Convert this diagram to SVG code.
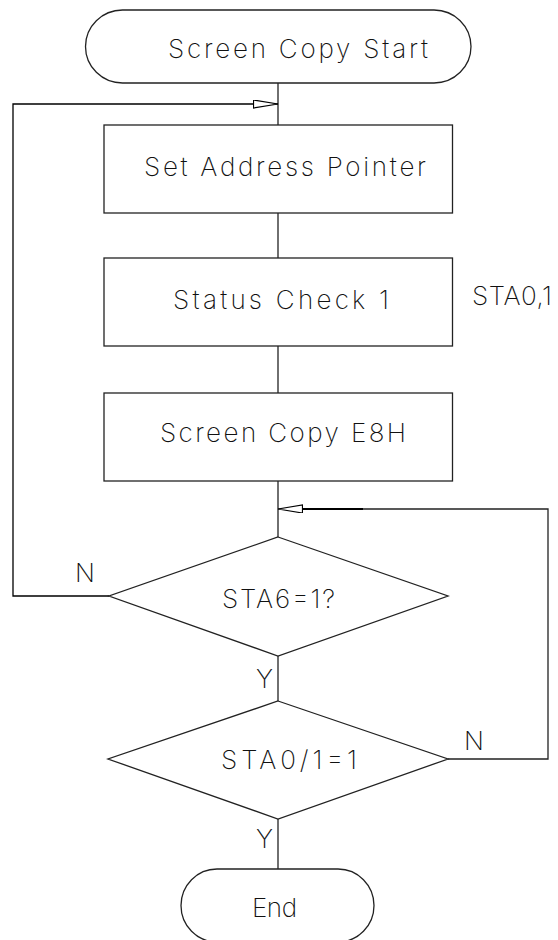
<svg xmlns="http://www.w3.org/2000/svg" width="558" height="940" viewBox="0 0 558 940">
<style>
  .shape { fill: #fff; stroke: #222; stroke-width: 1.3; }
  .conn { fill: none; stroke: #222; stroke-width: 1.3; }
  .thick { fill: none; stroke: #000; stroke-width: 2.2; }
  .lbl { font-family: Inter, "DejaVu Sans", sans-serif; font-weight: 200; font-size: 26px; fill: #111; }
</style>
<defs>
  <marker id="hollow" markerUnits="userSpaceOnUse" markerWidth="27" markerHeight="11" refX="25" refY="4.3" orient="auto">
    <path d="M0.5,0.3 L25,4.3 L0.5,8.3 Z" fill="#fff" stroke="#000" stroke-width="1.2"/>
  </marker>
</defs>
<rect width="558" height="940" fill="#fff"/>
<g id="connectors">
  <line class="conn" x1="278" y1="83" x2="278" y2="125"/>
  <line class="conn" x1="278" y1="213" x2="278" y2="258"/>
  <line class="conn" x1="278" y1="346" x2="278" y2="393"/>
  <line class="conn" x1="278" y1="481" x2="278" y2="537"/>
  <line class="conn" x1="278" y1="656" x2="278" y2="701"/>
  <line class="conn" x1="278" y1="819" x2="278" y2="869"/>
  <path class="conn" d="M109,596 H13 V104 H278" style="stroke:#000" marker-end="url(#hollow)"/>
  <path class="conn" d="M448,759 H548 V509 H278" marker-end="url(#hollow)"/>
  <line class="thick" x1="303" y1="509" x2="363" y2="509"/>
  <text class="lbl" x="75" y="582">N</text>
  <text class="lbl" x="256" y="688">Y</text>
  <text class="lbl" x="464" y="750">N</text>
  <text class="lbl" x="256" y="848">Y</text>
</g>
<g id="start">
  <rect class="shape" x="85.5" y="10" width="385.5" height="73" rx="37" ry="36.5"/>
  <text class="lbl" x="168" y="58" textLength="260" lengthAdjust="spacing">Screen Copy Start</text>
</g>
<g id="set-address">
  <rect class="shape" x="104" y="125" width="348.5" height="88"/>
  <text class="lbl" x="144" y="176" textLength="282" lengthAdjust="spacing">Set Address Pointer</text>
</g>
<g id="status-check">
  <rect class="shape" x="104" y="258" width="348.5" height="88"/>
  <text class="lbl" x="173" y="309" textLength="216" lengthAdjust="spacing">Status Check 1</text>
  <text class="lbl" x="472" y="305" textLength="80" lengthAdjust="spacing">STA0,1</text>
</g>
<g id="screen-copy">
  <rect class="shape" x="104" y="393" width="348.5" height="88"/>
  <text class="lbl" x="160" y="442" textLength="246" lengthAdjust="spacing">Screen Copy E8H</text>
</g>
<g id="sta6">
  <polygon class="shape" points="278,537 448,596 278,656 109,596"/>
  <text class="lbl" x="222" y="608" textLength="113" lengthAdjust="spacing">STA6=1?</text>
</g>
<g id="sta01">
  <polygon class="shape" points="278,701 448,759 278,819 108,759"/>
  <text class="lbl" x="221" y="769" textLength="136" lengthAdjust="spacing">STA0/1=1</text>
</g>
<g id="end">
  <rect class="shape" x="181" y="869" width="193" height="73" rx="36" ry="36.5"/>
  <text class="lbl" x="252" y="917" textLength="45" lengthAdjust="spacing">End</text>
</g>
</svg>
